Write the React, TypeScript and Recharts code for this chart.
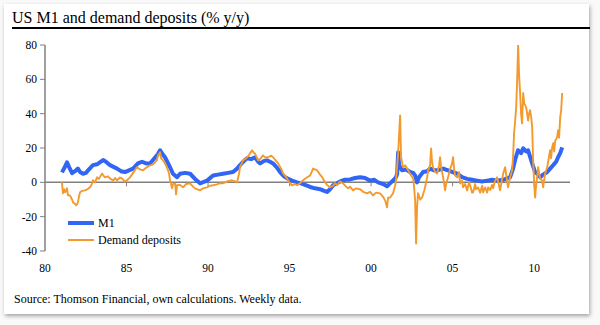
import React from "react";
import { LineChart, Line, XAxis, YAxis, ReferenceLine } from "recharts";

const title = "US M1 and demand deposits (% y/y)";
const source = "Source: Thomson Financial, own calculations. Weekly data.";

const xTicks = [1980, 1985, 1990, 1995, 2000, 2005, 2010];
const xTickLabels = ["80", "85", "90", "95", "00", "05", "10"];
const yTicks = [-40, -20, 0, 20, 40, 60, 80];

const m1Dates = [
  1981.04, 1981.17, 1981.35, 1981.47, 1981.66, 1981.84, 1982.02, 1982.15, 1982.33, 1982.52,
  1982.64, 1982.94, 1983.19, 1983.56, 1983.74, 1983.99, 1984.42, 1984.66, 1984.9, 1985.15,
  1985.4, 1985.7, 1985.95, 1986.2, 1986.44, 1986.75, 1986.93, 1987.06, 1987.24, 1987.36,
  1987.55, 1987.67, 1987.85, 1988.1, 1988.28, 1988.59, 1988.9, 1989.2, 1989.51, 1989.94,
  1990.31, 1990.61, 1990.92, 1991.23, 1991.53, 1991.78, 1991.96, 1992.21, 1992.39, 1992.64,
  1992.88, 1993.07, 1993.2, 1993.44, 1993.62, 1993.8, 1993.99, 1994.23, 1994.42, 1994.66,
  1994.85, 1995.15, 1995.46, 1995.64, 1995.95, 1996.26, 1996.56, 1996.87, 1997.12, 1997.3,
  1997.48, 1997.67, 1997.91, 1998.1, 1998.4, 1998.71, 1999.02, 1999.33, 1999.63, 1999.94,
  2000.18, 2000.43, 2000.74, 2000.98, 2001.17, 2001.35, 2001.53, 2001.6, 2001.66, 2001.72,
  2001.9, 2002.15, 2002.39, 2002.58, 2002.7, 2002.82, 2002.94, 2003.19, 2003.44, 2003.62,
  2003.87, 2004.05, 2004.42, 2004.85, 2005.28, 2005.58, 2005.89, 2006.2, 2006.5, 2006.81,
  2007.12, 2007.42, 2007.73, 2008.1, 2008.53, 2008.71, 2008.83, 2009.01, 2009.2, 2009.33,
  2009.51, 2009.63, 2009.75, 2009.88, 2010.06, 2010.18, 2010.37, 2010.55, 2010.8, 2010.98,
  2011.17, 2011.35, 2011.47, 2011.6, 2011.72,
];
const m1Values = [
  5.8, 8, 11.7, 9, 5.3, 6.5, 8, 6, 5, 5.5,
  7, 10, 10.5, 13, 12, 10, 8, 6.5, 6, 7,
  8, 11, 12, 11, 11, 14.5, 16.5, 18.7, 16, 14.6,
  11, 8.8, 5, 3, 5, 5.5, 5, 2, -0.6, 1,
  4, 4.5, 5, 5.5, 6, 8, 10, 12.5, 14, 13.5,
  14.6, 12, 11, 12.5, 12.8, 12, 11, 8.5, 6, 3.5,
  2.3, 1, 0, -0.5, -1.5, -2.7, -3.5, -4, -5, -5.6,
  -4, -1.7, -0.5, 0.5, 1.5, 1.7, 2.5, 2.9, 2.5, 1,
  1.5, 0, -1, -2.3, -0.5, 1, 3, 5, 17.5, 10,
  7, 7.5, 6, 5.5, 4, 0, 3, 6, 6.5, 8,
  7, 7, 8, 6.5, 5, 3, 2, 1.5, 1, 0.5,
  1, 1.5, 1, 1.5, 3, 8, 13, 18.7, 17, 19.8,
  18, 18.7, 15, 11, 6, 5, 3, 4.5, 6, 8,
  10, 12, 14.6, 17, 20.4,
];

const ddDates = [
  1981.04, 1981.1, 1981.17, 1981.23, 1981.35, 1981.41, 1981.53, 1981.66, 1981.72, 1981.84,
  1981.9, 1981.96, 1982.02, 1982.09, 1982.15, 1982.27, 1982.45, 1982.64, 1982.76, 1982.88,
  1982.94, 1983.07, 1983.19, 1983.31, 1983.5, 1983.62, 1983.68, 1983.87, 1983.99, 1984.17,
  1984.3, 1984.42, 1984.6, 1984.72, 1984.9, 1985.03, 1985.21, 1985.4, 1985.64, 1985.83,
  1986.01, 1986.2, 1986.44, 1986.63, 1986.75, 1986.87, 1986.93, 1987.06, 1987.12, 1987.24,
  1987.36, 1987.48, 1987.61, 1987.67, 1987.73, 1987.79, 1987.85, 1987.98, 1988.04, 1988.1,
  1988.28, 1988.47, 1988.65, 1988.9, 1989.08, 1989.2, 1989.39, 1989.51, 1989.69, 1989.94,
  1990.12, 1990.31, 1990.55, 1990.74, 1990.92, 1991.17, 1991.47, 1991.66, 1991.78, 1991.9,
  1991.96, 1992.09, 1992.15, 1992.27, 1992.39, 1992.52, 1992.7, 1992.82, 1992.88, 1993.01,
  1993.07, 1993.2, 1993.37, 1993.5, 1993.68, 1993.87, 1993.99, 1994.17, 1994.3, 1994.48,
  1994.6, 1994.79, 1994.91, 1995.03, 1995.15, 1995.34, 1995.46, 1995.64, 1995.83, 1996.01,
  1996.26, 1996.38, 1996.44, 1996.56, 1996.69, 1996.87, 1997.0, 1997.18, 1997.3, 1997.48,
  1997.67, 1997.79, 1997.91, 1998.1, 1998.28, 1998.47, 1998.59, 1998.71, 1998.9, 1999.08,
  1999.33, 1999.51, 1999.75, 1999.94, 2000.12, 2000.31, 2000.55, 2000.74, 2000.86, 2000.98,
  2001.04, 2001.17, 2001.35, 2001.47, 2001.53, 2001.66, 2001.78, 2001.84, 2001.96, 2002.09,
  2002.27, 2002.45, 2002.58, 2002.64, 2002.7, 2002.76, 2002.82, 2002.88, 2003.01, 2003.13,
  2003.25, 2003.31, 2003.44, 2003.5, 2003.62, 2003.68, 2003.74, 2003.8, 2003.93, 2004.05,
  2004.17, 2004.23, 2004.29, 2004.42, 2004.54, 2004.6, 2004.72, 2004.85, 2004.97, 2005.03,
  2005.09, 2005.15, 2005.28, 2005.4, 2005.46, 2005.58, 2005.64, 2005.77, 2005.89, 2006.01,
  2006.07, 2006.2, 2006.26, 2006.38, 2006.44, 2006.56, 2006.69, 2006.81, 2006.87, 2006.99,
  2007.12, 2007.18, 2007.3, 2007.42, 2007.48, 2007.61, 2007.73, 2007.85, 2007.91, 2008.04,
  2008.1, 2008.22, 2008.34, 2008.4, 2008.53, 2008.65, 2008.71, 2008.77, 2008.83, 2008.9,
  2008.96, 2009.02, 2009.08, 2009.14, 2009.2, 2009.26, 2009.33, 2009.39, 2009.51, 2009.57,
  2009.63, 2009.69, 2009.75, 2009.82, 2009.88, 2009.94, 2010.0, 2010.06, 2010.12, 2010.18,
  2010.25, 2010.31, 2010.37, 2010.49, 2010.55, 2010.61, 2010.67, 2010.8, 2010.86, 2010.98,
  2011.04, 2011.1, 2011.17, 2011.23, 2011.29, 2011.41, 2011.47, 2011.53, 2011.6, 2011.66,
  2011.72,
];
const ddValues = [
  0, -6.4, -4, -5.8, -3.5, -7.6, -7.6, -10, -11.7, -12.5,
  -13.4, -12.8, -11.7, -8, -5.8, -5, -4.7, -3.8, -2.9, -1,
  1.2, 0, 2.9, 2, 5.2, 3.5, 2.9, 3.5, 2.3, 1,
  2.5, 1.2, 2.8, 2.3, 0.5, 1.2, 2.9, 5.5, 8.8, 7.5,
  7, 8.5, 9.9, 10.5, 11.7, 13, 15.7, 17.5, 14, 12.8,
  11, 8.8, 5, 1.2, -1, -3.5, -1, -0.6, -7, -1.7,
  -1.5, -2.9, -1, -0.6, -2.5, -3.5, -4.2, -4.7, -3.5, -2.9,
  -2, -1.7, -1.2, -0.5, -0.6, 0.5, 1.2, 0.5, 0, 5,
  8.8, 11.5, 12.8, 13.5, 14.6, 16, 18.7, 17, 16.9, 14,
  12.8, 13.5, 15.7, 14.5, 14.6, 15.5, 14.6, 12.5, 11, 8,
  5.2, 3, 1.2, -0.5, -1.7, -1, -1.7, -0.5, 1.2, 2.5,
  4, 6.5, 8, 7.5, 7, 4.5, 3, 0, -1.5, -3,
  -2, -0.5, -1.7, 0.5, -0.6, -2.5, -3.5, -2.5, -4.7, -3.5,
  -4, -5.5, -6.4, -5.5, -7.6, -6, -6.4, -8.5, -10.5, -14.6,
  -9, -8.8, -6.4, -2, 1.2, 16.9, 39, 14.6, 8.8, 9.9,
  7, 4, 2.3, -3, -10.5, -35.6, -14.6, -6.4, -10, -8.8,
  -5, -2.9, 3, 7, 10, 19.8, 12, 8.8, 6, 5.2,
  10, 14.6, 9, 2.9, -4.7, -1, 2.9, 8, 11, 14.6,
  8, 4, 2.9, 6, -0.6, 1, -2.9, -1, -4.7, 0,
  -1.7, -6, -5.8, -1, -4, -2.9, -6, -2, -5.8, -3,
  -6, -2.9, -4.5, -1.5, -3.5, 1, 2.9, -2, -4.7, 2,
  5, 8.8, 1, -2.9, 3, 7, 15, 28.6, 35, 43.8,
  60, 80, 62, 52, 40, 34.4, 52, 46, 43.8, 40,
  36, 40, 42, 38, 32, 12.8, 0, -8.8, -2, 2.9,
  8.8, 5, 2, 1.2, -2.9, 1, 5, 8.8, 12, 18.7,
  14, 20, 22.8, 18, 24, 26.3, 30.3, 26, 38, 42,
  52,
];

const m1Data = m1Dates.map((x, i) => ({ x, v: m1Values[i] }));
const ddData = ddDates.map((x, i) => ({ x, v: ddValues[i] }));

const BLUE = "#3065F5";
const ORANGE = "#F29A2E";
const AXIS = "#808080";
const FONT = "'Liberation Serif', 'Times New Roman', serif";

export default function App() {
  return (
    <div style={{ position: "absolute", left: 0, top: 0, width: 600, height: 325, background: "#f9f9f9", fontFamily: FONT }}>
      <div
        style={{
          position: "absolute",
          left: 4,
          top: 4,
          width: 585,
          height: 310,
          background: "#ffffff",
          boxShadow: "1px 2px 4px rgba(0,0,0,0.35)",
        }}
      />
      <div style={{ position: "absolute", left: 12, top: 9, fontSize: 16, lineHeight: "18px", color: "#000", whiteSpace: "nowrap" }}>
        {title}
      </div>
      <div style={{ position: "absolute", left: 12, top: 26.5, width: 578, height: 2, background: "#000" }} />
      <div style={{ position: "absolute", left: 0, top: 0 }}>
        <LineChart width={600} height={290} margin={{ top: 45, left: 5, right: 30, bottom: 9 }}>
          <XAxis
            dataKey="x"
            type="number"
            domain={[1980, 2012.2]}
            ticks={xTicks}
            tickFormatter={(t: number) => xTickLabels[xTicks.indexOf(t)] ?? ""}
            axisLine={false}
            tickLine={false}
            tickSize={0}
            tickMargin={13}
            height={30}
            tick={{ fill: "#000", fontSize: 11.5, fontFamily: FONT }}
            allowDataOverflow
          />
          <YAxis
            type="number"
            domain={[-40, 80]}
            ticks={yTicks}
            width={40}
            axisLine={{ stroke: AXIS, strokeWidth: 1.5 }}
            tickLine={{ stroke: AXIS, strokeWidth: 1 }}
            tickSize={5}
            tickMargin={3}
            tick={{ fill: "#000", fontSize: 11.5, fontFamily: FONT }}
            allowDataOverflow
          />
          <ReferenceLine y={0} stroke={AXIS} strokeWidth={1.5} />
          {xTicks.slice(1).map((t) => (
            <ReferenceLine
              key={t}
              segment={[
                { x: t, y: 0 },
                { x: t, y: -2.3 },
              ]}
              stroke={AXIS}
              strokeWidth={1}
            />
          ))}
          <Line
            data={m1Data}
            dataKey="v"
            type="linear"
            stroke={BLUE}
            strokeWidth={4}
            dot={false}
            isAnimationActive={false}
            strokeLinejoin="round"
          />
          <Line
            data={ddData}
            dataKey="v"
            type="linear"
            stroke={ORANGE}
            strokeWidth={1.9}
            dot={false}
            isAnimationActive={false}
            strokeLinejoin="round"
          />
        </LineChart>
      </div>
      <div style={{ position: "absolute", left: 68, top: 215, fontSize: 12, color: "#000" }}>
        <div style={{ display: "flex", alignItems: "center", height: 16 }}>
          <div style={{ width: 26, height: 4, background: BLUE, marginRight: 4 }} />
          <span>M1</span>
        </div>
        <div style={{ display: "flex", alignItems: "center", height: 16, marginTop: 1 }}>
          <div style={{ width: 26, height: 2, background: ORANGE, marginRight: 4 }} />
          <span>Demand deposits</span>
        </div>
      </div>
      <div style={{ position: "absolute", left: 14, top: 292, fontSize: 12, lineHeight: "14px", color: "#000", whiteSpace: "nowrap" }}>
        {source}
      </div>
    </div>
  );
}
